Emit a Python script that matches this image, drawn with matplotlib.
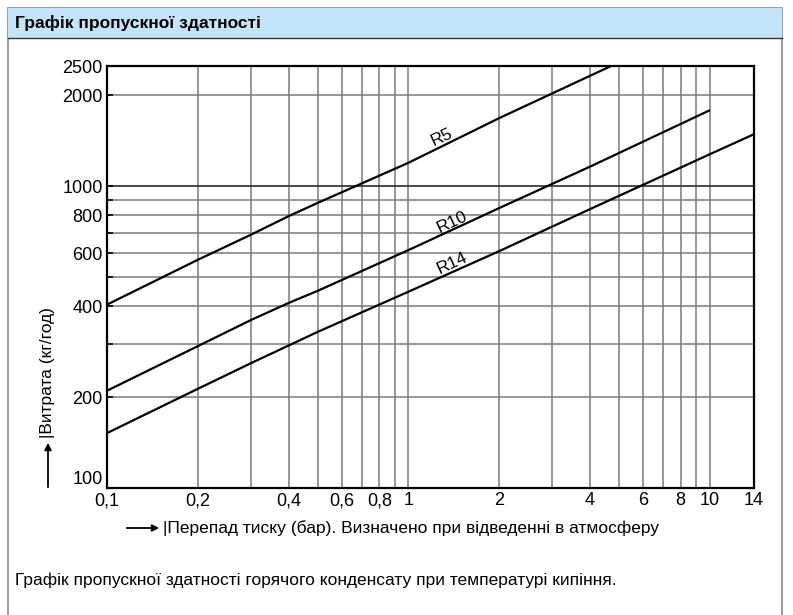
import matplotlib
matplotlib.use("Agg")
import matplotlib.pyplot as plt
from matplotlib.patches import Rectangle, FancyArrowPatch
from matplotlib.lines import Line2D
from matplotlib import font_manager

# ---- data ----
r5_x = [0.1, 0.2, 0.3, 0.4, 0.5, 1.0, 2.0, 4.7]
r5_y = [405, 570, 690, 795, 880, 1195, 1680, 2500]
r10_x = [0.1, 0.2, 0.3, 0.4, 0.5, 1.0, 2.0, 4.0, 10.0]
r10_y = [210, 295, 360, 410, 450, 614, 846, 1160, 1785]
r14_x = [0.1, 0.2, 0.3, 0.5, 1.0, 2.0, 4.0, 10.0, 14.0]
r14_y = [152, 213, 259, 329, 447, 609, 839, 1276, 1486]
series_names = ["R5", "R10", "R14"]
label_pos = [(1.29, 1453), (1.40, 760), (1.40, 556)]

x_ticks = [0.1, 0.2, 0.4, 0.6, 0.8, 1, 2, 4, 6, 8, 10, 14]
x_tick_labels = ["0,1", "0,2", "0,4", "0,6", "0,8", "1", "2", "4", "6", "8", "10", "14"]
x_grid = [0.2, 0.3, 0.4, 0.5, 0.6, 0.7, 0.8, 0.9, 1, 2, 3, 4, 5, 6, 7, 8, 9, 10]
y_ticks = [100, 200, 400, 600, 800, 1000, 2000, 2500]
y_tick_labels = ["100", "200", "400", "600", "800", "1000", "2000", "2500"]
y_grid = [200, 300, 400, 500, 600, 700, 800, 900, 1000, 2000]
y_minor = [300, 500, 700, 900]

title = "Графік пропускної здатності"
ylabel = "Витрата (кг/год)"
xlabel = "Перепад тиску (бар). Визначено при відведенні в атмосферу"
caption = "Графік пропускної здатності горячого конденсату при температурі кипіння."

names = {f.name for f in font_manager.fontManager.ttflist}
narrow = "Liberation Sans Narrow" if "Liberation Sans Narrow" in names else "Liberation Sans"
plt.rcParams['font.family'] = [narrow, 'DejaVu Sans']

W, H = 793, 615
fig = plt.figure(figsize=(W / 100, H / 100), dpi=100)

def fx(px):
    return px / W

def fy(py):
    return 1 - py / H

# outer box and header (behind axes)
fig.patches.append(Rectangle((fx(8), fy(640)), fx(774), fy(8) - fy(640),
                             transform=fig.transFigure, facecolor="white",
                             edgecolor="#8a8a8a", lw=1.2, zorder=-5))
fig.patches.append(Rectangle((fx(8), fy(38)), fx(774), fy(8) - fy(38),
                             transform=fig.transFigure, facecolor="#c3e4f8",
                             edgecolor="none", zorder=-4))
fig.lines.append(Line2D([fx(8), fx(782)], [fy(38), fy(38)], transform=fig.transFigure,
                        color="#333333", lw=1.0, zorder=-3))
fig.text(fx(15), fy(23), title, fontsize=12.5, fontweight="bold", va="center", ha="left")

ax = fig.add_axes([fx(107), fy(488), fx(754) - fx(107), fy(66) - fy(488)])
ax.set_zorder(2)
ax.patch.set_facecolor("white")
ax.set_xscale("log")
ax.set_yscale("log")
ax.set_xlim(0.1, 14)
ax.set_ylim(100, 2500)

for g in x_grid:
    ax.axvline(g, color="#7a7a7a", lw=1.1, zorder=1)
for g in y_grid:
    ax.axhline(g, color="#3a3a3a" if g == 1000 else "#7a7a7a", lw=1.3 if g == 1000 else 1.1, zorder=1)

for xs, ys in [(r5_x, r5_y), (r10_x, r10_y), (r14_x, r14_y)]:
    ax.plot(xs, ys, color="black", lw=1.6, zorder=3, solid_capstyle="butt")

for name, (lx, ly) in zip(series_names, label_pos):
    ax.text(lx, ly, name, rotation=25, fontsize=12.5, ha="center", va="center",
            rotation_mode="anchor", zorder=4)

ax.set_xticks(x_ticks)
ax.set_xticklabels(x_tick_labels, fontsize=13)
ax.set_yticks(y_ticks)
ax.set_yticklabels(y_tick_labels, fontsize=13)
ax.xaxis.set_minor_locator(matplotlib.ticker.NullLocator())
ax.set_yticks(y_minor, minor=True)
ax.yaxis.set_minor_formatter(matplotlib.ticker.NullFormatter())
ax.tick_params(axis="y", which="major", direction="in", length=4, width=1.2, pad=3)
ax.tick_params(axis="y", which="minor", direction="in", length=4, width=1.2)
ax.tick_params(axis="x", which="major", length=0, pad=3)
for s in ax.spines.values():
    s.set_linewidth(1.6)
    s.set_color("black")
    s.set_zorder(5)
ylabs = ax.get_yticklabels()
ylabs[0].set_va("bottom")

# y-axis label with arrow
fig.patches.append(FancyArrowPatch((fx(48), fy(490)), (fx(48), fy(440)),
                   transform=fig.transFigure, arrowstyle="-|>", mutation_scale=10,
                   color="black", lw=1.3))
fig.text(fx(48), fy(438), "|" + ylabel, rotation=90, fontsize=12.5, ha="center", va="bottom")

# x-axis label with arrow
fig.patches.append(FancyArrowPatch((fx(124), fy(528)), (fx(162), fy(528)),
                   transform=fig.transFigure, arrowstyle="-|>", mutation_scale=10,
                   color="black", lw=1.3))
fig.text(fx(163), fy(528), "|" + xlabel, fontsize=12.5, ha="left", va="center")

fig.text(fx(15), fy(580), caption, fontsize=12.5, ha="left", va="center")

fig.savefig("out.png", dpi=100)
